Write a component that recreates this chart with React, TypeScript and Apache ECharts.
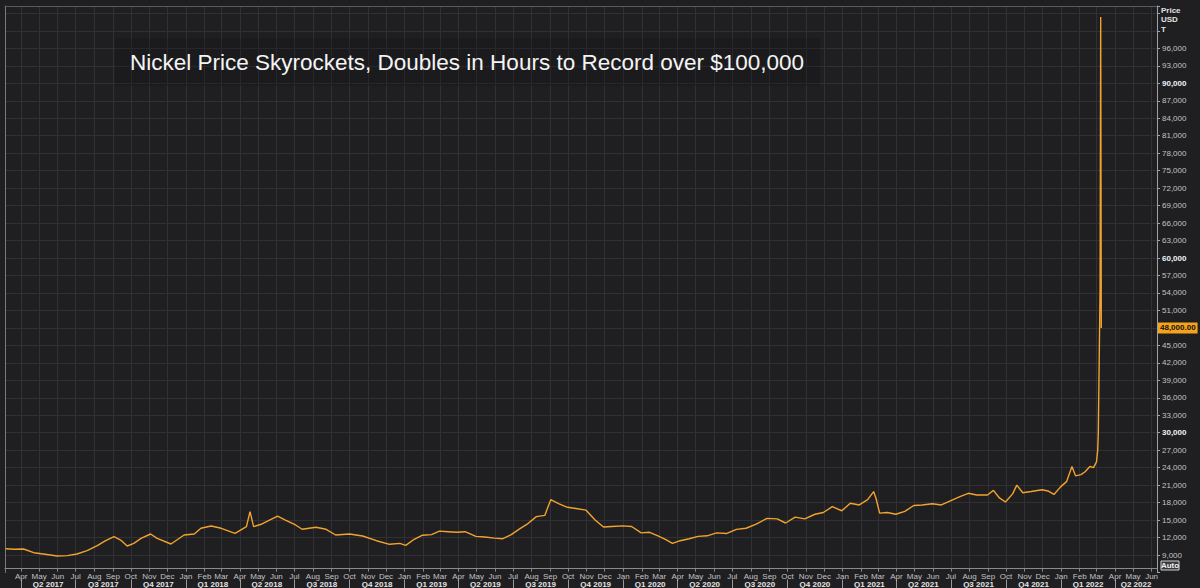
import React, { useEffect, useRef } from 'react';
import * as echarts from 'echarts';

// ---------- data ----------
const chartTitle = 'Nickel Price Skyrockets, Doubles in Hours to Record over $100,000';
const axisHeader = ['Price', 'USD', 'T'];
const rangeStart = '2017-03-05';
const rangeEnd = '2022-06-10';
const monthNames = ['Jan', 'Feb', 'Mar', 'Apr', 'May', 'Jun', 'Jul', 'Aug', 'Sep', 'Oct', 'Nov', 'Dec'];

const dates = [
  '2017-03-06', '2017-03-20', '2017-04-05', '2017-04-22', '2017-05-08', '2017-05-31', '2017-06-17',
  '2017-07-03', '2017-07-20', '2017-08-06', '2017-08-20', '2017-09-03', '2017-09-14', '2017-09-25',
  '2017-10-06', '2017-10-18', '2017-11-03', '2017-11-14', '2017-12-07', '2017-12-29',
  '2018-01-15', '2018-01-26', '2018-02-12', '2018-03-01', '2018-03-24', '2018-04-12', '2018-04-18',
  '2018-04-24', '2018-05-08', '2018-06-03', '2018-06-16', '2018-07-03', '2018-07-14', '2018-08-06',
  '2018-08-23', '2018-09-08', '2018-10-01', '2018-10-23', '2018-11-15', '2018-12-07', '2018-12-24',
  '2019-01-03', '2019-01-17', '2019-01-31', '2019-02-15', '2019-02-28', '2019-03-15', '2019-03-29',
  '2019-04-12', '2019-04-30', '2019-05-15', '2019-05-31', '2019-06-14', '2019-06-28', '2019-07-12',
  '2019-07-26', '2019-08-09', '2019-08-23', '2019-09-02', '2019-09-16', '2019-09-30', '2019-10-14',
  '2019-10-31', '2019-11-15', '2019-11-29', '2019-12-13', '2019-12-31',
  '2020-01-15', '2020-01-31', '2020-02-14', '2020-02-28', '2020-03-13', '2020-03-23', '2020-04-03',
  '2020-04-20', '2020-05-05', '2020-05-20', '2020-06-05', '2020-06-22', '2020-07-08', '2020-07-24',
  '2020-08-10', '2020-08-28', '2020-09-14', '2020-09-28', '2020-10-14', '2020-10-30', '2020-11-16',
  '2020-11-30', '2020-12-15', '2020-12-31',
  '2021-01-14', '2021-01-29', '2021-02-12', '2021-02-22', '2021-02-26', '2021-03-04', '2021-03-17',
  '2021-03-31', '2021-04-15', '2021-04-30', '2021-05-14', '2021-05-31', '2021-06-15', '2021-06-30',
  '2021-07-15', '2021-07-30', '2021-08-13', '2021-08-31', '2021-09-10', '2021-09-20', '2021-09-30',
  '2021-10-12', '2021-10-19', '2021-10-29', '2021-11-12', '2021-11-30', '2021-12-10', '2021-12-20',
  '2021-12-31',
  '2022-01-10', '2022-01-19', '2022-01-25', '2022-02-03', '2022-02-10', '2022-02-18', '2022-02-24',
  '2022-03-01', '2022-03-03', '2022-03-04', '2022-03-07', '2022-03-08', '2022-03-09',
];

const prices = [
  10080, 10000, 10030, 9400, 9180, 8830, 8890,
  9180, 9750, 10600, 11460, 12150, 11580, 10550,
  11010, 11870, 12610, 11870, 10890, 12440,
  12610, 13590, 13980, 13590, 12730, 13870, 16440,
  13870, 14330, 15700, 15010, 14160, 13420, 13760,
  13420, 12440, 12610, 12270, 11460, 10840, 11010,
  10650, 11700, 12400, 12500, 13100, 13000, 12900,
  13000, 12200, 12100, 11900, 11800, 12500, 13500,
  14400, 15600, 15800, 18500, 17800, 17200, 17000,
  16700, 15000, 13800, 13900, 14000,
  13900, 12800, 12900, 12300, 11600, 11000, 11400,
  11800, 12200, 12300, 12800, 12700, 13400, 13600,
  14300, 15300, 15200, 14500, 15500, 15200, 16000,
  16300, 17300, 16600,
  17900, 17600, 18500, 19900, 18700, 16200, 16300,
  16000, 16500, 17500, 17600, 17800, 17600, 18300,
  19000, 19600, 19300, 19300, 20100, 18800, 18100,
  19500, 21000, 19700, 19900, 20200, 20000, 19400,
  20700,
  21600, 24200, 22600, 22800, 23300, 24200, 24000,
  25000, 27000, 29800, 55000, 101365, 48000,
];

const yMin = 6000;
const yMax = 103270;
const yStep = 3000;
const yLabelTop = 96000;

// ---------- helpers ----------
const DAY = 86400000;
function buildDays(start: string, end: string): string[] {
  const out: string[] = [];
  const s = Date.parse(start + 'T00:00:00Z');
  const e = Date.parse(end + 'T00:00:00Z');
  for (let t = s; t <= e; t += DAY) out.push(new Date(t).toISOString().slice(0, 10));
  return out;
}

const FONT = '"Liberation Sans", Arial, sans-serif';

export default function App() {
  const ref = useRef<HTMLDivElement>(null);

  useEffect(() => {
    if (!ref.current) return;
    const chart = echarts.init(ref.current, undefined, { renderer: 'svg' });

    const days = buildDays(rangeStart, rangeEnd);
    const dayIndex = new Map<string, number>();
    days.forEach((d, i) => dayIndex.set(d, i));

    const isMonthStart = (_i: number, v: string) => String(v).slice(8, 10) === '01';
    const isQuarterStart = (_i: number, v: string) => {
      const s = String(v);
      return s.slice(8, 10) === '01' && ['01', '04', '07', '10'].includes(s.slice(5, 7));
    };

    // quarter label positions: middle of the visible part of each quarter
    const quarterLabelAt = new Map<number, string>();
    {
      let qStartIdx = 0;
      let curKey = '';
      const flush = (endIdx: number) => {
        if (!curKey) return;
        if (endIdx - qStartIdx >= 45) {
          quarterLabelAt.set(Math.round((qStartIdx + endIdx) / 2), curKey);
        }
      };
      days.forEach((d, i) => {
        const y = d.slice(0, 4);
        const q = Math.floor((+d.slice(5, 7) - 1) / 3) + 1;
        const key = 'Q' + q + ' ' + y;
        if (key !== curKey) {
          flush(i - 1);
          curKey = key;
          qStartIdx = i;
        }
      });
      flush(days.length - 1);
    }

    const seriesData = dates.map((d, i) => [dayIndex.get(d), prices[i]]);
    const lastValue = prices[prices.length - 1];

    const splitColors = ['rgba(0,0,0,0)'].concat(Array.from({ length: 60 }, () => '#313135'));

    chart.setOption({
      animation: false,
      backgroundColor: '#1f1f22',
      textStyle: { fontFamily: FONT },
      grid: {
        left: 5,
        right: 43,
        top: 6,
        bottom: 15.5,
        show: false,
        containLabel: false,
        outerBoundsMode: 'none',
      },
      xAxis: [
        {
          type: 'category',
          data: days,
          boundaryGap: false,
          position: 'bottom',
          offset: -4,
          axisLine: { show: true, lineStyle: { color: '#8a8a8a', width: 1 } },
          axisTick: { show: true, interval: isMonthStart, length: 3, lineStyle: { color: '#8a8a8a' } },
          axisLabel: {
            interval: isMonthStart,
            formatter: (v: string) => monthNames[+String(v).slice(5, 7) - 1],
            color: '#c2c2c2',
            fontSize: 8,
            margin: 4,
            fontFamily: FONT,
          },
          splitLine: { show: true, interval: isMonthStart, lineStyle: { color: '#313135', width: 1 } },
        },
        {
          type: 'category',
          data: days,
          boundaryGap: false,
          position: 'bottom',
          offset: 7,
          axisLine: { show: false },
          axisTick: { show: true, interval: isQuarterStart, length: 10, lineStyle: { color: '#9a9a9a' } },
          axisLabel: {
            interval: (i: number) => quarterLabelAt.has(i),
            formatter: (_v: string, i: number) => quarterLabelAt.get(i) || '',
            color: '#e4e4e4',
            fontWeight: 'bold',
            fontSize: 8,
            margin: 1,
            fontFamily: FONT,
          },
          splitLine: { show: false },
        },
        {
          type: 'category',
          data: days,
          boundaryGap: false,
          position: 'top',
          axisLine: { show: true, lineStyle: { color: '#5a5a5e' } },
          axisTick: { show: false },
          axisLabel: { show: false },
          splitLine: { show: false },
        },
      ],
      yAxis: [
        {
          type: 'value',
          position: 'right',
          min: yMin,
          max: yMax,
          interval: yStep,
          axisLine: { show: true, lineStyle: { color: '#a0a0a0' } },
          axisTick: { show: true, length: 3, lineStyle: { color: '#a0a0a0' } },
          axisLabel: {
            formatter: (v: number) => {
              if (v % yStep !== 0 || v === yMin || v > yLabelTop || v === lastValue) return '';
              const s = v.toLocaleString('en-US');
              return v % 30000 === 0 ? '{b|' + s + '}' : s;
            },
            color: '#c2c2c2',
            fontSize: 8,
            margin: 5,
            fontFamily: FONT,
            rich: { b: { fontWeight: 'bold', color: '#f2f2f2', fontSize: 8, fontFamily: FONT } },
          },
          splitLine: { show: true, lineStyle: { color: splitColors, width: 1 } },
        },
        {
          type: 'value',
          position: 'left',
          min: yMin,
          max: yMax,
          interval: yStep,
          axisLine: { show: true, lineStyle: { color: '#7a7a7e' } },
          axisTick: { show: false },
          axisLabel: { show: false },
          splitLine: { show: false },
        },
      ],
      series: [
        {
          type: 'line',
          data: seriesData,
          xAxisIndex: 0,
          yAxisIndex: 0,
          showSymbol: false,
          symbol: 'none',
          connectNulls: true,
          lineStyle: { color: '#f2a22e', width: 1.4 },
          z: 5,
          markLine: {
            silent: true,
            symbol: 'none',
            lineStyle: { width: 0, color: 'rgba(0,0,0,0)', opacity: 1 },
            label: {
              show: true,
              position: 'end',
              distance: 1,
              opacity: 1,
              formatter: (p: any) =>
                Number(p.value).toLocaleString('en-US', { minimumFractionDigits: 2, maximumFractionDigits: 2 }),
              backgroundColor: '#f5a31a',
              color: '#111',
              fontWeight: 'bold',
              fontSize: 8,
              fontFamily: FONT,
              padding: [2, 2, 1, 2],
            },
            data: [{ yAxis: lastValue }],
          },
        },
      ],
      graphic: [
        {
          type: 'rect',
          shape: { x: 115, y: 38, width: 705, height: 48 },
          style: { fill: 'rgba(16,16,18,0.25)' },
          z: 10,
        },
        {
          type: 'text',
          x: 130,
          y: 62,
          style: {
            text: chartTitle,
            font: '22.5px "Liberation Sans", Arial, sans-serif',
            fill: '#f4f4f4',
            textVerticalAlign: 'middle',
            verticalAlign: 'middle',
          },
          z: 11,
        },
        ...axisHeader.map((t, i) => ({
          type: 'text',
          x: 1161,
          y: 10 + i * 9.5,
          style: {
            text: t,
            font: 'bold 8px "Liberation Sans", Arial, sans-serif',
            fill: '#e2e2e2',
            textVerticalAlign: 'middle',
            verticalAlign: 'middle',
          },
          z: 11,
        })),
        {
          type: 'group',
          x: 1161,
          y: 561,
          z: 11,
          children: [
            {
              type: 'rect',
              shape: { x: 0, y: 0, width: 18, height: 9 },
              style: { fill: '#3a3a3d', stroke: '#d0d0d0', lineWidth: 1 },
            },
            {
              type: 'text',
              x: 9,
              y: 4.8,
              style: {
                text: 'Auto',
                font: 'bold 8px "Liberation Sans", Arial, sans-serif',
                fill: '#f0f0f0',
                textAlign: 'center',
                align: 'center',
                textVerticalAlign: 'middle',
                verticalAlign: 'middle',
              },
            },
          ],
        },
      ],
    });

    return () => chart.dispose();
  }, []);

  return (
    <div
      ref={ref}
      style={{ position: 'absolute', left: 0, top: 0, width: 1200, height: 588 }}
    />
  );
}
